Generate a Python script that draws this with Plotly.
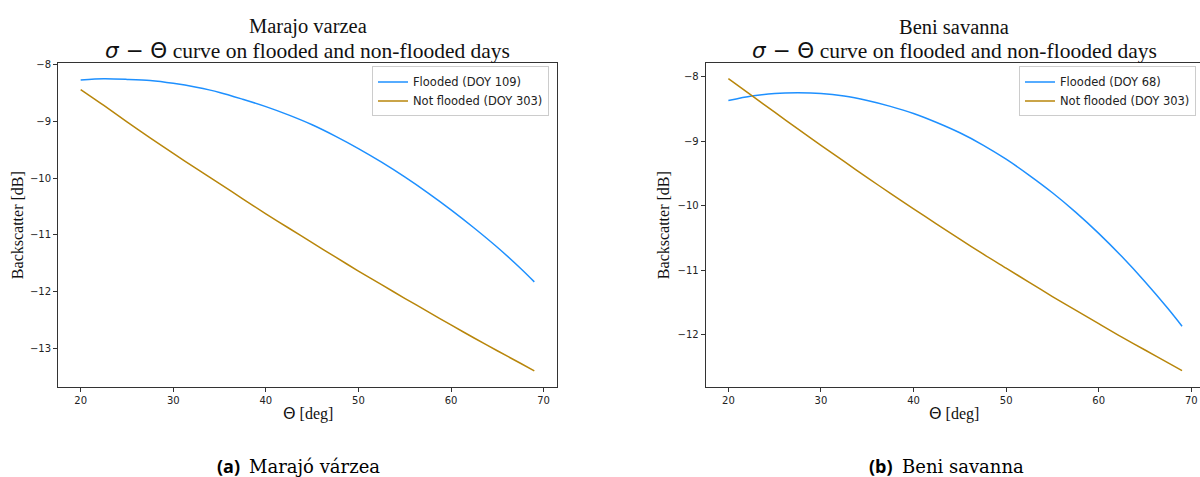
import plotly.graph_objects as go

# Incidence angle samples (degrees)
theta = [20, 22.5, 25, 27.5, 30, 32.5, 35, 37.5, 40, 42.5, 45,
         47.5, 50, 52.5, 55, 57.5, 60, 62.5, 65, 67.5, 69]

# Marajó várzea backscatter (dB)
marajo_flooded = [-8.27, -8.25, -8.26, -8.28, -8.33, -8.40, -8.49, -8.61, -8.74, -8.89, -9.06,
                  -9.26, -9.48, -9.72, -9.98, -10.26, -10.56, -10.88, -11.22, -11.59, -11.83]
marajo_dry = [-8.44, -8.72, -9.01, -9.29, -9.565, -9.835, -10.10, -10.365, -10.63, -10.885, -11.14,
              -11.39, -11.64, -11.88, -12.12, -12.355, -12.59, -12.82, -13.045, -13.265, -13.40]

# Beni savanna backscatter (dB)
beni_flooded = [-8.37, -8.30, -8.26, -8.25, -8.26, -8.30, -8.37, -8.46, -8.57, -8.71, -8.87,
                -9.06, -9.28, -9.53, -9.80, -10.10, -10.43, -10.79, -11.18, -11.60, -11.87]
beni_dry = [-8.03, -8.29, -8.55, -8.81, -9.065, -9.315, -9.565, -9.81, -10.05, -10.285, -10.52,
            -10.75, -10.97, -11.19, -11.41, -11.62, -11.83, -12.04, -12.24, -12.44, -12.56]

legend_a = ["Flooded (DOY 109)", "Not flooded (DOY 303)"]
legend_b = ["Flooded (DOY 68)", "Not flooded (DOY 303)"]

x_ticks = [20, 30, 40, 50, 60, 70]
y_ticks_a = [-8, -9, -10, -11, -12, -13]
y_ticks_b = [-8, -9, -10, -11, -12]

BLUE = "#1E90FF"
GOLD = "#B8860B"
W, H = 1200, 477

fig = go.Figure()

for xa, ya, lg, names, wet, dry in [
    ("x", "y", "legend", legend_a, marajo_flooded, marajo_dry),
    ("x2", "y2", "legend2", legend_b, beni_flooded, beni_dry),
]:
    fig.add_trace(go.Scatter(x=theta, y=wet, mode="lines", name=names[0],
                             line=dict(color=BLUE, width=1.5, shape="spline", smoothing=0.8),
                             xaxis=xa, yaxis=ya, legend=lg))
    fig.add_trace(go.Scatter(x=theta, y=dry, mode="lines", name=names[1],
                             line=dict(color=GOLD, width=1.5, shape="spline", smoothing=0.8),
                             xaxis=xa, yaxis=ya, legend=lg))

tick_font = dict(family="DejaVu Sans", size=10, color="#222")
axis_common = dict(showgrid=False, zeroline=False, showline=True, linecolor="#333",
                   linewidth=1, ticks="outside", ticklen=4, tickcolor="#333",
                   tickfont=tick_font)


def px_x(p):
    return p / W


def px_y(p):
    return 1 - p / H


y_dom = [px_y(386), px_y(60)]
legend_style = dict(xanchor="left", yanchor="top",
                    bgcolor="rgba(255,255,255,0.8)", bordercolor="#ccc", borderwidth=1,
                    font=dict(family="DejaVu Sans", size=11.5, color="#222"),
                    itemwidth=30, tracegroupgap=0)

fig.update_layout(
    width=W, height=H,
    margin=dict(l=0, r=0, t=0, b=0),
    paper_bgcolor="white", plot_bgcolor="white",
    showlegend=True,
    xaxis=dict(domain=[px_x(58), px_x(557)], range=[17.55, 71.45], tickvals=x_ticks,
               mirror=True, anchor="y", **axis_common),
    yaxis=dict(domain=y_dom, range=[-13.68, -7.98], tickvals=y_ticks_a,
               mirror=True, anchor="x", **axis_common),
    xaxis2=dict(domain=[px_x(705.7), 1.0], range=[17.55, 70.94], tickvals=x_ticks,
                mirror=True, anchor="y2", **axis_common),
    yaxis2=dict(domain=y_dom, range=[-12.81, -7.795], tickvals=y_ticks_b,
                mirror=False, anchor="x2", **axis_common),
    legend=dict(x=px_x(372), y=px_y(63), **legend_style),
    legend2=dict(x=px_x(1019), y=px_y(63), **legend_style),
)

serif = "Liberation Serif"
math_span = '<span style="font-family:DejaVu Sans"><i>σ</i> − Θ</span>'


def note(text, x, y, size, family=serif, angle=0, anchor="center", color="#111"):
    fig.add_annotation(text=text, x=px_x(x), y=px_y(y), xref="paper", yref="paper",
                       xanchor=anchor, yanchor="middle", showarrow=False,
                       textangle=angle, font=dict(family=family, size=size, color=color))


panels = [
    (307.5, 17, "Marajo varzea", "(a)", "Marajó várzea", 242),
    (954, 663, "Beni savanna", "(b)", "Beni savanna", 895),
]
for cx, ylab_x, name, tag, caption, tag_right in panels:
    note(name, cx, 23, 20.5)
    note(math_span + " curve on flooded and non-flooded days", cx, 47, 21.5)
    note('<span style="font-family:DejaVu Sans">Θ</span> [deg]', cx, 413, 16)
    note("Backscatter [dB]", ylab_x, 223, 16, angle=-90)
    note("<b>" + tag + "</b>", tag_right, 466, 18, family="Open Sans", anchor="right", color="#000")
    note(caption, tag_right + 5, 466, 18, family="DejaVu Serif", anchor="left", color="#000")

fig.write_html("out.html")
